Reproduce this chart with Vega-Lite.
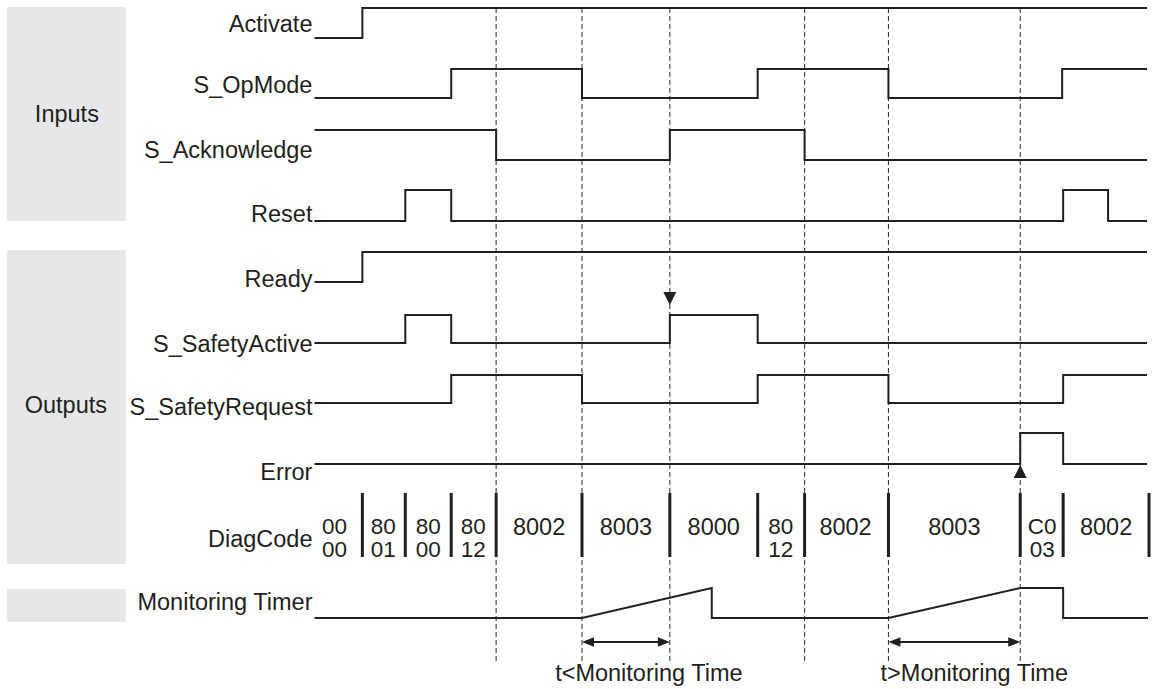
{
  "$schema": "https://vega.github.io/schema/vega-lite/v6.json",
  "width": 1152,
  "height": 689,
  "autosize": {"type": "fit", "contains": "padding"},
  "padding": 0,
  "background": "white",
  "config": {"view": {"stroke": null}},
  "datasets": {
    "boxes": [
      {"x1": 7, "x2": 126, "v1": 7, "v2": 221},
      {"x1": 7, "x2": 126, "v1": 250, "v2": 564},
      {"x1": 7, "x2": 126, "v1": 589, "v2": 622}
    ],
    "rowLabels": [
      {"t": 313, "v": 32, "txt": "Activate"},
      {"t": 313, "v": 93, "txt": "S_OpMode"},
      {"t": 313, "v": 158, "txt": "S_Acknowledge"},
      {"t": 313, "v": 222, "txt": "Reset"},
      {"t": 313, "v": 287, "txt": "Ready"},
      {"t": 313, "v": 352, "txt": "S_SafetyActive"},
      {"t": 313, "v": 415, "txt": "S_SafetyRequest"},
      {"t": 313, "v": 480, "txt": "Error"},
      {"t": 313, "v": 547, "txt": "DiagCode"},
      {"t": 313, "v": 610, "txt": "Monitoring Timer"}
    ],
    "centerTexts": [
      {"t": 67, "v": 122, "txt": "Inputs"},
      {"t": 66, "v": 413, "txt": "Outputs"},
      {"t": 540, "v": 535, "txt": "8002"},
      {"t": 627, "v": 535, "txt": "8003"},
      {"t": 715, "v": 535, "txt": "8000"},
      {"t": 847, "v": 535, "txt": "8002"},
      {"t": 956, "v": 535, "txt": "8003"},
      {"t": 1108, "v": 535, "txt": "8002"},
      {"t": 650, "v": 681, "txt": "t<Monitoring Time"},
      {"t": 976, "v": 681, "txt": "t>Monitoring Time"}
    ],
    "stackTexts": [
      {"t": 335, "v": 534, "txt": "00"},
      {"t": 335, "v": 557, "txt": "00"},
      {"t": 384, "v": 534, "txt": "80"},
      {"t": 384, "v": 557, "txt": "01"},
      {"t": 429, "v": 534, "txt": "80"},
      {"t": 429, "v": 557, "txt": "00"},
      {"t": 474, "v": 534, "txt": "80"},
      {"t": 474, "v": 557, "txt": "12"},
      {"t": 782, "v": 534, "txt": "80"},
      {"t": 782, "v": 557, "txt": "12"},
      {"t": 1044, "v": 534, "txt": "C0"},
      {"t": 1044, "v": 557, "txt": "03"}
    ],
    "dashes": [
      {"t": 497, "v1": 8, "v2": 663},
      {"t": 583, "v1": 8, "v2": 663},
      {"t": 671, "v1": 8, "v2": 663},
      {"t": 806, "v1": 8, "v2": 663},
      {"t": 890, "v1": 8, "v2": 663},
      {"t": 1022, "v1": 8, "v2": 663}
    ],
    "bars": [
      {"t": 363}, {"t": 406}, {"t": 452}, {"t": 497}, {"t": 583}, {"t": 671},
      {"t": 759}, {"t": 806}, {"t": 890}, {"t": 1022}, {"t": 1065}, {"t": 1151}
    ],
    "signals": [
      {"sig": "Activate", "t": 315, "v": 38},
      {"sig": "Activate", "t": 363, "v": 8},
      {"sig": "Activate", "t": 1149, "v": 8},
      {"sig": "S_OpMode", "t": 315, "v": 98},
      {"sig": "S_OpMode", "t": 452, "v": 69},
      {"sig": "S_OpMode", "t": 583, "v": 98},
      {"sig": "S_OpMode", "t": 759, "v": 69},
      {"sig": "S_OpMode", "t": 890, "v": 98},
      {"sig": "S_OpMode", "t": 1064, "v": 69},
      {"sig": "S_OpMode", "t": 1149, "v": 69},
      {"sig": "S_Acknowledge", "t": 315, "v": 130},
      {"sig": "S_Acknowledge", "t": 497, "v": 160},
      {"sig": "S_Acknowledge", "t": 671, "v": 130},
      {"sig": "S_Acknowledge", "t": 806, "v": 160},
      {"sig": "S_Acknowledge", "t": 1149, "v": 160},
      {"sig": "Reset", "t": 315, "v": 221},
      {"sig": "Reset", "t": 406, "v": 190},
      {"sig": "Reset", "t": 452, "v": 221},
      {"sig": "Reset", "t": 1065, "v": 190},
      {"sig": "Reset", "t": 1110, "v": 221},
      {"sig": "Reset", "t": 1149, "v": 221},
      {"sig": "Ready", "t": 315, "v": 282},
      {"sig": "Ready", "t": 363, "v": 252},
      {"sig": "Ready", "t": 1149, "v": 252},
      {"sig": "S_SafetyActive", "t": 315, "v": 343},
      {"sig": "S_SafetyActive", "t": 406, "v": 315},
      {"sig": "S_SafetyActive", "t": 452, "v": 343},
      {"sig": "S_SafetyActive", "t": 671, "v": 315},
      {"sig": "S_SafetyActive", "t": 759, "v": 343},
      {"sig": "S_SafetyActive", "t": 1149, "v": 343},
      {"sig": "S_SafetyRequest", "t": 315, "v": 403},
      {"sig": "S_SafetyRequest", "t": 452, "v": 375},
      {"sig": "S_SafetyRequest", "t": 583, "v": 403},
      {"sig": "S_SafetyRequest", "t": 759, "v": 375},
      {"sig": "S_SafetyRequest", "t": 890, "v": 403},
      {"sig": "S_SafetyRequest", "t": 1065, "v": 375},
      {"sig": "S_SafetyRequest", "t": 1149, "v": 375},
      {"sig": "Error", "t": 315, "v": 464},
      {"sig": "Error", "t": 1022, "v": 433},
      {"sig": "Error", "t": 1065, "v": 464},
      {"sig": "Error", "t": 1149, "v": 464}
    ],
    "timer": [
      {"i": 1, "t": 315, "v": 618},
      {"i": 2, "t": 583, "v": 618},
      {"i": 3, "t": 713, "v": 588},
      {"i": 4, "t": 713, "v": 618},
      {"i": 5, "t": 890, "v": 618},
      {"i": 6, "t": 1022, "v": 588},
      {"i": 7, "t": 1065, "v": 588},
      {"i": 8, "t": 1065, "v": 618},
      {"i": 9, "t": 1150, "v": 618}
    ],
    "downMarks": [{"t": 671, "v": 298.5}],
    "upMarks": [{"t": 1022, "v": 471.5}],
    "arrowShafts": [
      {"t1": 586, "t2": 668, "v": 642},
      {"t1": 893, "t2": 1019, "v": 642}
    ],
    "leftHeads": [{"t": 589, "v": 642}, {"t": 896, "v": 642}],
    "rightHeads": [{"t": 665, "v": 642}, {"t": 1016, "v": 642}]
  },
  "layer": [
    {
      "data": {"name": "boxes"},
      "mark": {"type": "rect", "fill": "#e6e7e8", "stroke": null},
      "encoding": {
        "x": {"field": "x1", "type": "quantitative", "scale": {"domain": [0, 1152], "nice": false, "zero": false}, "axis": null},
        "x2": {"field": "x2"},
        "y": {"field": "v1", "type": "quantitative", "scale": {"domain": [0, 689], "reverse": true, "nice": false, "zero": false}, "axis": null},
        "y2": {"field": "v2"}
      }
    },
    {
      "data": {"name": "dashes"},
      "mark": {"type": "rule", "color": "#3a3a3a", "strokeWidth": 1.1, "strokeDash": [5, 3]},
      "encoding": {
        "x": {"field": "t", "type": "quantitative", "scale": {"domain": [0, 1152], "nice": false, "zero": false}, "axis": null},
        "y": {"field": "v1", "type": "quantitative", "scale": {"domain": [0, 689], "reverse": true, "nice": false, "zero": false}, "axis": null},
        "y2": {"field": "v2"}
      }
    },
    {
      "data": {"name": "signals"},
      "mark": {"type": "line", "interpolate": "step-after", "color": "#231f20", "strokeWidth": 2},
      "encoding": {
        "x": {"field": "t", "type": "quantitative", "scale": {"domain": [0, 1152], "nice": false, "zero": false}, "axis": null},
        "y": {"field": "v", "type": "quantitative", "scale": {"domain": [0, 689], "reverse": true, "nice": false, "zero": false}, "axis": null},
        "detail": {"field": "sig", "type": "nominal"}
      }
    },
    {
      "data": {"name": "timer"},
      "mark": {"type": "line", "color": "#231f20", "strokeWidth": 2},
      "encoding": {
        "x": {"field": "t", "type": "quantitative", "scale": {"domain": [0, 1152], "nice": false, "zero": false}, "axis": null},
        "y": {"field": "v", "type": "quantitative", "scale": {"domain": [0, 689], "reverse": true, "nice": false, "zero": false}, "axis": null},
        "order": {"field": "i", "type": "quantitative"}
      }
    },
    {
      "data": {"name": "bars"},
      "mark": {"type": "rule", "color": "#231f20", "strokeWidth": 3},
      "encoding": {
        "x": {"field": "t", "type": "quantitative", "scale": {"domain": [0, 1152], "nice": false, "zero": false}, "axis": null},
        "y": {"datum": 493, "type": "quantitative", "scale": {"domain": [0, 689], "reverse": true, "nice": false, "zero": false}, "axis": null},
        "y2": {"datum": 557}
      }
    },
    {
      "data": {"name": "arrowShafts"},
      "mark": {"type": "rule", "color": "#231f20", "strokeWidth": 2},
      "encoding": {
        "x": {"field": "t1", "type": "quantitative", "scale": {"domain": [0, 1152], "nice": false, "zero": false}, "axis": null},
        "x2": {"field": "t2"},
        "y": {"field": "v", "type": "quantitative", "scale": {"domain": [0, 689], "reverse": true, "nice": false, "zero": false}, "axis": null}
      }
    },
    {
      "data": {"name": "leftHeads"},
      "mark": {"type": "point", "shape": "M-1,0L1,-0.8L1,0.8Z", "size": 144, "filled": true, "opacity": 1, "color": "#231f20", "strokeWidth": 0},
      "encoding": {
        "x": {"field": "t", "type": "quantitative", "scale": {"domain": [0, 1152], "nice": false, "zero": false}, "axis": null},
        "y": {"field": "v", "type": "quantitative", "scale": {"domain": [0, 689], "reverse": true, "nice": false, "zero": false}, "axis": null}
      }
    },
    {
      "data": {"name": "rightHeads"},
      "mark": {"type": "point", "shape": "M1,0L-1,-0.8L-1,0.8Z", "size": 144, "filled": true, "opacity": 1, "color": "#231f20", "strokeWidth": 0},
      "encoding": {
        "x": {"field": "t", "type": "quantitative", "scale": {"domain": [0, 1152], "nice": false, "zero": false}, "axis": null},
        "y": {"field": "v", "type": "quantitative", "scale": {"domain": [0, 689], "reverse": true, "nice": false, "zero": false}, "axis": null}
      }
    },
    {
      "data": {"name": "downMarks"},
      "mark": {"type": "point", "shape": "M-1,-1L1,-1L0,1Z", "size": 169, "filled": true, "opacity": 1, "color": "#231f20", "strokeWidth": 0},
      "encoding": {
        "x": {"field": "t", "type": "quantitative", "scale": {"domain": [0, 1152], "nice": false, "zero": false}, "axis": null},
        "y": {"field": "v", "type": "quantitative", "scale": {"domain": [0, 689], "reverse": true, "nice": false, "zero": false}, "axis": null}
      }
    },
    {
      "data": {"name": "upMarks"},
      "mark": {"type": "point", "shape": "M0,-1L1,1L-1,1Z", "size": 169, "filled": true, "opacity": 1, "color": "#231f20", "strokeWidth": 0},
      "encoding": {
        "x": {"field": "t", "type": "quantitative", "scale": {"domain": [0, 1152], "nice": false, "zero": false}, "axis": null},
        "y": {"field": "v", "type": "quantitative", "scale": {"domain": [0, 689], "reverse": true, "nice": false, "zero": false}, "axis": null}
      }
    },
    {
      "data": {"name": "rowLabels"},
      "mark": {"type": "text", "align": "right", "baseline": "alphabetic", "font": "Liberation Sans", "fontSize": 23.5, "color": "#231f20"},
      "encoding": {
        "x": {"field": "t", "type": "quantitative", "scale": {"domain": [0, 1152], "nice": false, "zero": false}, "axis": null},
        "y": {"field": "v", "type": "quantitative", "scale": {"domain": [0, 689], "reverse": true, "nice": false, "zero": false}, "axis": null},
        "text": {"field": "txt", "type": "nominal"}
      }
    },
    {
      "data": {"name": "centerTexts"},
      "mark": {"type": "text", "align": "center", "baseline": "alphabetic", "font": "Liberation Sans", "fontSize": 23.5, "color": "#231f20"},
      "encoding": {
        "x": {"field": "t", "type": "quantitative", "scale": {"domain": [0, 1152], "nice": false, "zero": false}, "axis": null},
        "y": {"field": "v", "type": "quantitative", "scale": {"domain": [0, 689], "reverse": true, "nice": false, "zero": false}, "axis": null},
        "text": {"field": "txt", "type": "nominal"}
      }
    },
    {
      "data": {"name": "stackTexts"},
      "mark": {"type": "text", "align": "center", "baseline": "alphabetic", "font": "Liberation Sans", "fontSize": 22.5, "color": "#231f20"},
      "encoding": {
        "x": {"field": "t", "type": "quantitative", "scale": {"domain": [0, 1152], "nice": false, "zero": false}, "axis": null},
        "y": {"field": "v", "type": "quantitative", "scale": {"domain": [0, 689], "reverse": true, "nice": false, "zero": false}, "axis": null},
        "text": {"field": "txt", "type": "nominal"}
      }
    }
  ]
}
